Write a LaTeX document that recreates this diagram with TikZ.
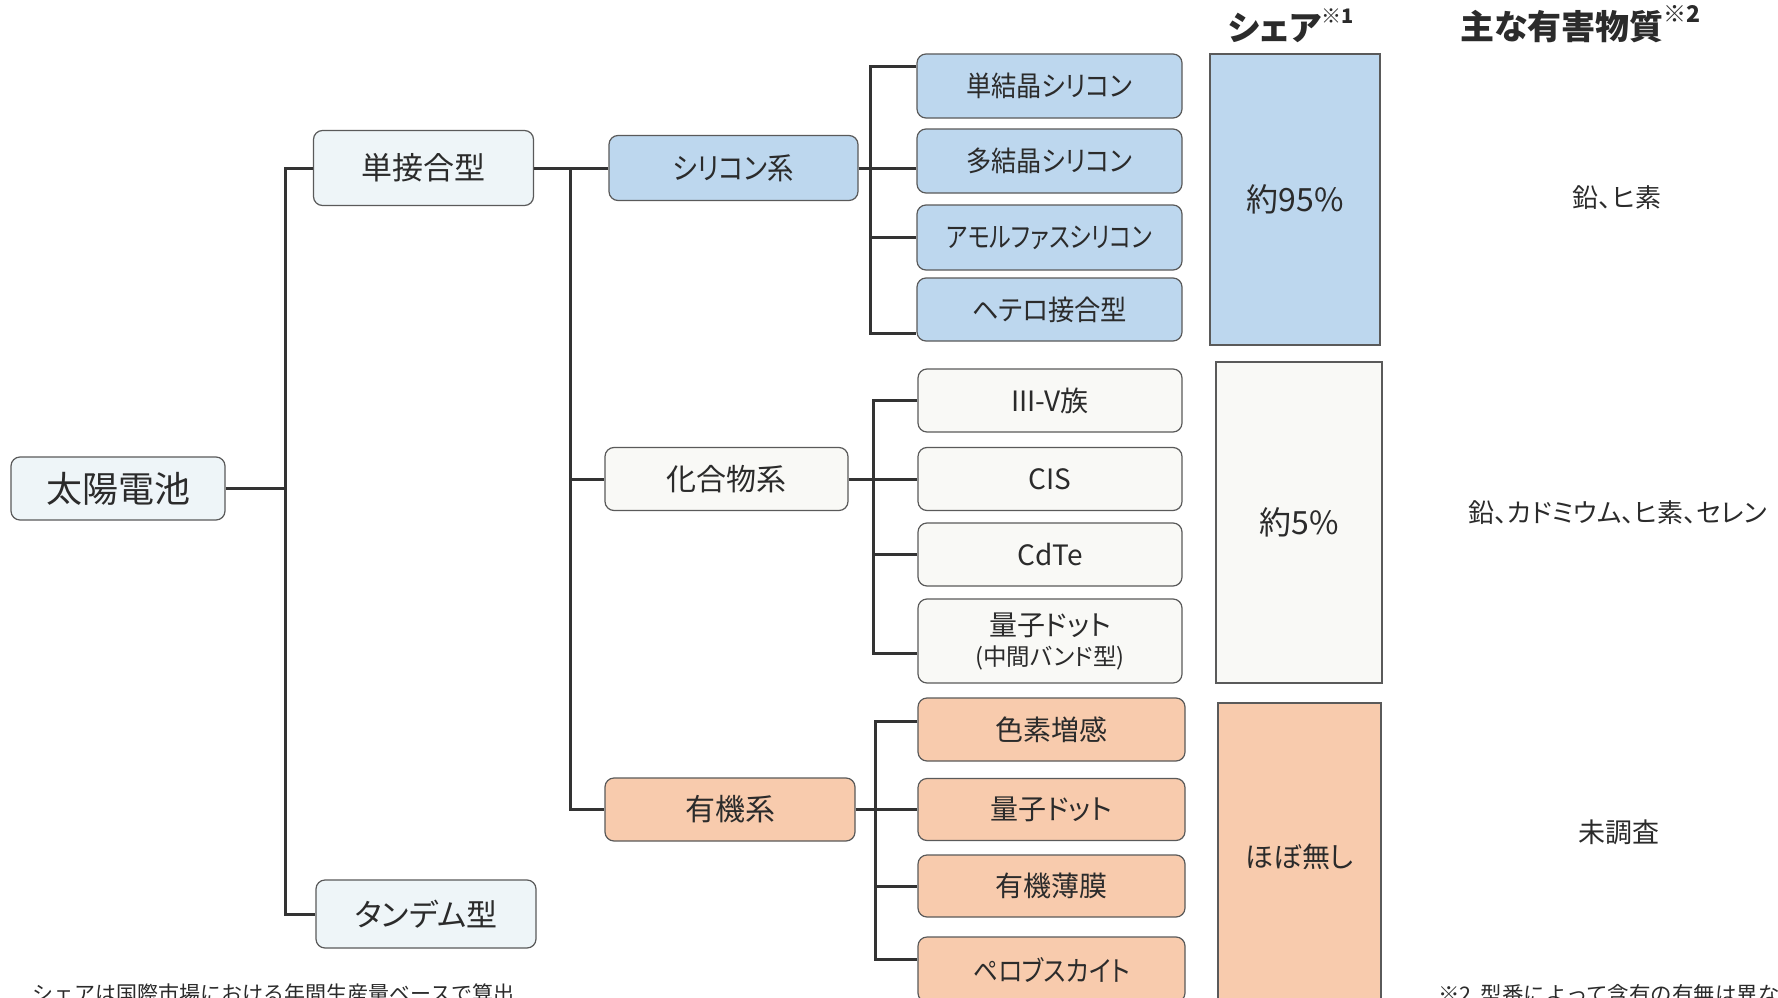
\documentclass[tikz,border=0pt]{standalone}
\usepackage{fontspec}
\setmainfont{Noto Sans CJK JP}[RawFeature={+palt}]
\newfontfamily\plainjp{Noto Sans CJK JP}
\definecolor{lineC}{HTML}{333333}
\definecolor{edgeC}{HTML}{5A5A5A}
\definecolor{rootF}{HTML}{EEF5F8}
\definecolor{blueF}{HTML}{BDD7EE}
\definecolor{whiteF}{HTML}{F9F9F6}
\definecolor{peachF}{HTML}{F8CBAD}
\definecolor{txt}{HTML}{2B2B2B}
\newcommand{\narrow}[2]{\scalebox{#1}[1]{#2}}
\tikzset{
  box/.style={draw=edgeC, line width=1.2pt, rounded corners=9pt, inner sep=0pt, text=txt, align=center},
  conn/.style={draw=lineC, line width=3pt},
  sharebox/.style={draw=edgeC, line width=1.5pt, inner sep=0pt, text=txt, align=center},
  plain/.style={inner sep=0pt, text=txt},
  fA/.style={font=\fontsize{36}{40}\selectfont},
  fB/.style={font=\fontsize{31}{36}\selectfont},
  fC/.style={font=\fontsize{30}{34}\selectfont},
  fD/.style={font=\fontsize{28}{32}\selectfont},
  lvB/.style={box, fB, fill=rootF, minimum width=220pt},
  lvC/.style={box, fC, minimum height=63pt},
  lvD/.style={box, fD, minimum height=63pt},
}
\begin{document}
\begin{tikzpicture}[x=1pt,y=-1pt]
\useasboundingbox (0,0) rectangle (1778,998);
\fill[white] (0,0) rectangle (1778,998);

% level 0 and 1
\node[box, fA, fill=rootF, minimum width=214pt, minimum height=63pt] (sun) at (118,488.5) {太陽電池};
\node[lvB, minimum height=75pt] (single) at (423.5,168) {単接合型};
\node[lvB, minimum height=68pt] (tandem) at (426,914) {タンデム型};

% level 2
\node[lvC, fill=blueF, minimum width=249pt, minimum height=65pt] (si) at (733.5,168) {\narrow{0.88}{シリコン系}};
\node[lvC, fill=whiteF, minimum width=243pt] (comp) at (726.5,479) {化合物系};
\node[lvC, fill=peachF, minimum width=250pt] (org) at (730,809.5) {有機系};

% level 3: silicon
\node[lvD, fill=blueF, minimum width=265pt, minimum height=64pt] (s1) at (1049.5,86) {\narrow{0.9}{単結晶シリコン}};
\node[lvD, fill=blueF, minimum width=265pt, minimum height=64pt] (s2) at (1049.5,161) {\narrow{0.9}{多結晶シリコン}};
\node[lvD, fill=blueF, minimum width=265pt, minimum height=65pt] (s3) at (1049.5,237.5) {\narrow{0.82}{アモルファスシリコン}};
\node[lvD, fill=blueF, minimum width=265pt] (s4) at (1049.5,309.5) {\narrow{0.94}{ヘテロ接合型}};

% level 3: compound
\node[lvD, fill=whiteF, minimum width=264pt] (c1) at (1050,400.5) {III-V族};
\node[lvD, fill=whiteF, minimum width=264pt] (c2) at (1050,479) {CIS};
\node[lvD, fill=whiteF, minimum width=264pt] (c3) at (1050,554.5) {CdTe};
\node[lvD, fill=whiteF, minimum width=264pt, minimum height=84pt] (c4) at (1050,641)
  {{\fontsize{28}{30}\selectfont 量子ドット}\\[-2pt]{\fontsize{23.5}{26}\selectfont (中間バンド型)}};

% level 3: organic
\node[lvD, fill=peachF, minimum width=267pt] (o1) at (1051.5,729.5) {色素増感};
\node[lvD, fill=peachF, minimum width=267pt, minimum height=62pt] (o2) at (1051.5,809.5) {量子ドット};
\node[lvD, fill=peachF, minimum width=267pt, minimum height=62pt] (o3) at (1051.5,886) {有機薄膜};
\node[lvD, fill=peachF, minimum width=267pt, minimum height=65pt] (o4) at (1051.5,969.5) {\narrow{0.88}{ペロブスカイト}};

% connectors level 1
\coordinate (b1) at (285,0);
\draw[conn] (sun.east) -- (sun.east -| b1);
\draw[conn] (single.west) -- (single.west -| b1) -- (tandem.west -| b1) -- (tandem.west);

% connectors level 2
\coordinate (b2) at (570,0);
\draw[conn] (single.east) -- (si.west);
\draw[conn] (si.west -| b2) -- (org.west -| b2) -- (org.west);
\draw[conn] (comp.west -| b2) -- (comp.west);

% silicon bracket
\coordinate (b3) at (870,0);
\coordinate (t1) at ([yshift=-13pt]s1.north west);
\coordinate (t4) at ([yshift=8pt]s4.south west);
\draw[conn] (t1) -- (t1 -| b3) -- (t4 -| b3) -- (t4);
\draw[conn] (si.east) -- (si.east -| s2.west);
\draw[conn] (s3.west -| b3) -- (s3.west);

% compound bracket
\coordinate (b4) at (873,0);
\coordinate (u4) at ([yshift=-12pt]c4.west);
\draw[conn] (c1.west) -- (c1.west -| b4) -- (u4 -| b4) -- (u4);
\draw[conn] (comp.east) -- (c2.west);
\draw[conn] (c3.west -| b4) -- (c3.west);

% organic bracket
\coordinate (b5) at (875,0);
\coordinate (v1) at ([yshift=8pt]o1.west);
\coordinate (v4) at ([yshift=10pt]o4.west);
\draw[conn] (v1) -- (v1 -| b5) -- (v4 -| b5) -- (v4);
\draw[conn] (org.east) -- (o2.west);
\draw[conn] (o3.west -| b5) -- (o3.west);

% share column
\node[plain, anchor=west, font=\bfseries\fontsize{34}{38}\selectfont] (hshare) at (1228,26)
  {シェア\raisebox{0.5em}{\fontsize{20}{22}\selectfont ※1}};
\node[sharebox, fill=blueF, minimum width=170pt, minimum height=291pt, font=\fontsize{32}{36}\selectfont] (sh1) at (1295,199.5) {約95\%};
\node[sharebox, fill=whiteF, minimum width=166pt, minimum height=321pt, font=\fontsize{32}{36}\selectfont] (sh2) at (1299,522.5) {約5\%};
\node[sharebox, fill=peachF, minimum width=163pt, minimum height=307pt, font=\fontsize{28}{32}\selectfont] (sh3) at (1299.5,856.5) {ほぼ無し};

% harmful substances column
\node[plain, anchor=west, font=\bfseries\fontsize{34}{38}\selectfont] (hharm) at (1460,24)
  {主な有害物質\raisebox{0.5em}{\fontsize{23}{25}\selectfont ※2}};
\node[plain, font=\fontsize{26}{30}\selectfont] (hz1) at (1617,198) {鉛、ヒ素};
\node[plain, font=\fontsize{26}{30}\selectfont] (hz2) at (1618,513) {鉛、カドミウム、ヒ素、セレン};
\node[plain, font=\fontsize{27}{30}\selectfont] (hz3) at (1619,832) {未調査};

% footnotes (clipped at the bottom edge)
\node[plain, anchor=north west, font=\plainjp\fontsize{21}{24}\selectfont] (fn1) at (32,984) {シェアは国際市場における年間生産量ベースで算出};
\node[plain, anchor=north west, font=\plainjp\fontsize{21.5}{24}\selectfont] (fn2) at (1438,984) {※2\hspace{9pt}型番によって含有の有無は異な};
\end{tikzpicture}
\end{document}
